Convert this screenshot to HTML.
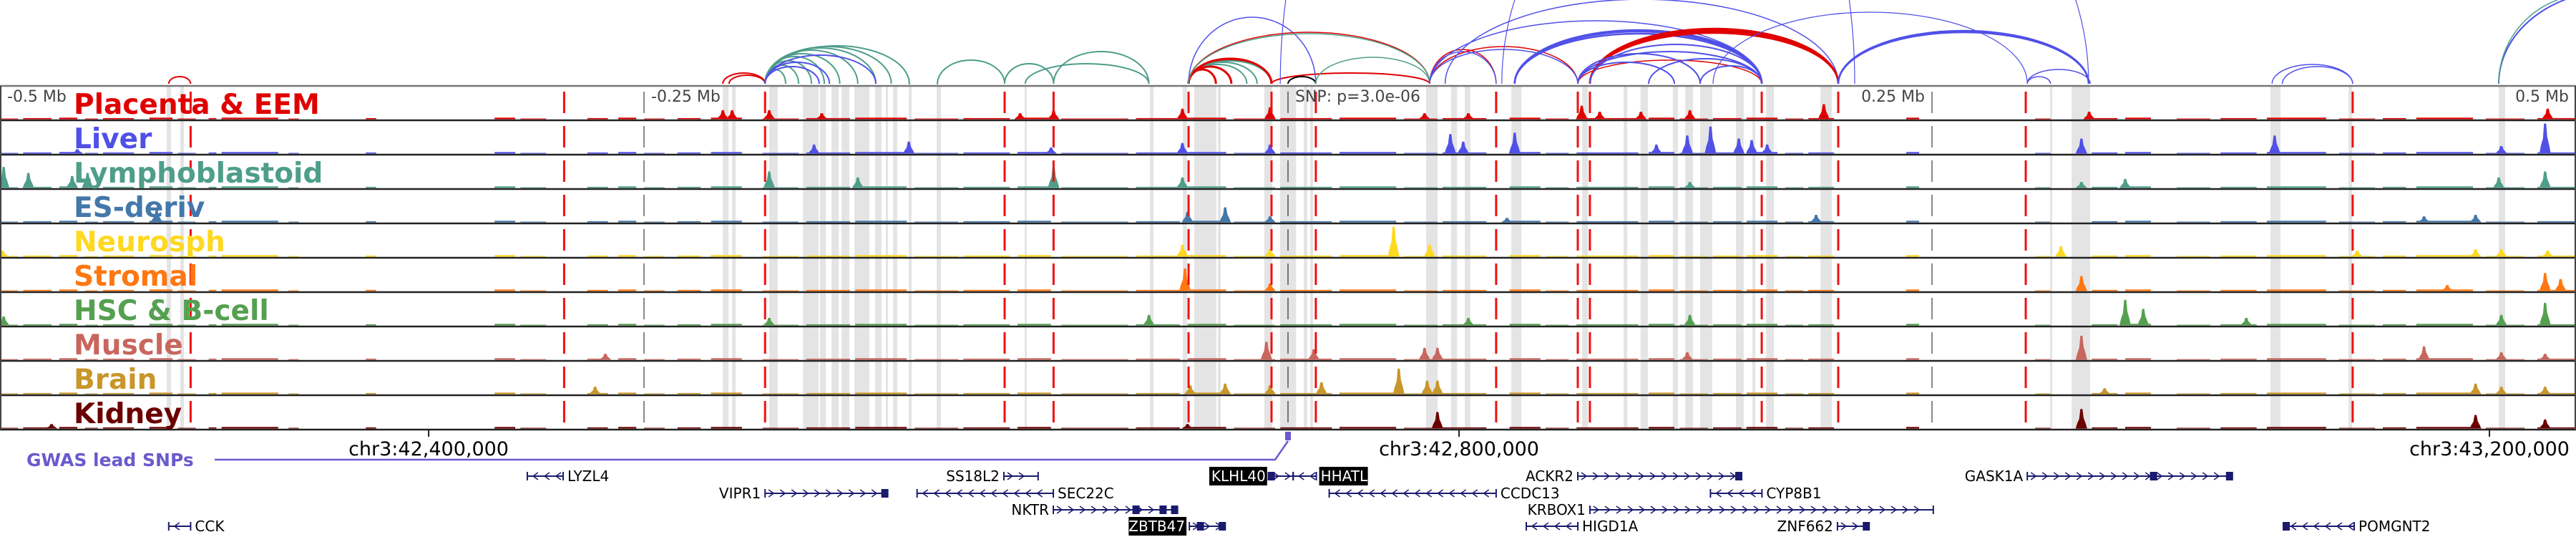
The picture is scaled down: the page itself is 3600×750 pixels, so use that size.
<!DOCTYPE html>
<html><head><meta charset="utf-8">
<style>
html,body{margin:0;padding:0;background:#fff;}
#wrap{width:3600px;height:750px;position:relative;overflow:hidden;}
svg{display:block;}
text{font-family:"DejaVu Sans","Liberation Sans",sans-serif;}
</style></head>
<body>
<div id="wrap">
<svg id="chart" width="3600" height="750" xmlns="http://www.w3.org/2000/svg"></svg>
</div>
<script>
// ---------- data (positions in kb from window start, chr3:42,233,611) ----------
const trackNames = ["Placenta & EEM","Liver","Lymphoblastoid","ES-deriv","Neurosph","Stromal","HSC & B-cell","Muscle","Brain","Kidney"];
const trackColors = ["#e00000","#5050e8","#4e9e8a","#4477aa","#ffd820","#ff7711","#55a050","#c8665e","#c8962a","#6b0000"];
const redLinesKb = [74,219,297,390,409,461.4,493.6,510.8,580.8,612.5,617.2,683.9,713.6,786.4,913.3];
const greyLinesKb = [250,750];
const snpKb = 500;
const tickKb = [0,250,500,750,1000];
const tickLabels = ["-0.5 Mb","-0.25 Mb","SNP: p=3.0e-06","0.25 Mb","0.5 Mb"];
const axisKb = [166.4,566.4,966.4];
const axisLabels = ["chr3:42,400,000","chr3:42,800,000","chr3:43,200,000"];
const bandStarts = [64.7,70,280.6,284.2,298.6,311.7,318.3,322.8,326.7,331.7,339.7,343.9,346.7,352.8,363.6,397.8,446.4,459.2,463.6,472.8,490.8,496.9,506.1,508.6,553.6,563.3,568.6,586.7,614.2,630.3,636.9,649.4,654.2,660,673.9,680.3,685.6,706.7,795.8,804.2,881.4,911.7,970];
const bandEnds   = [66.4,71.4,282.8,285.6,301.9,317.8,320.6,325.6,329.7,337.5,342.2,344.7,348.3,353.9,365.3,398.6,447.8,460.8,472.2,473.9,493.9,503.1,507.5,509.7,558.1,565.6,570.8,590.6,616.4,631.7,639.7,651.4,657.2,664.7,676.9,681.4,688.6,711.1,796.7,811.4,885.3,913.1,972.5];
const baseStarts = [0,9,23,33,40,58,69,81,86,112,142,192,202,228,240,250,263,276,296,313,332,355,374,395,412,441,461,479,497,520,545,560,586,600,612,640,652,665,678,693,702,740,790,812,825,845,862,880,908,925,938,965,985];
const baseEnds   = [7,20,30,38,52,67,76,84,108,116,146,200,212,236,247,258,272,288,310,330,352,372,392,408,438,458,476,495,517,542,558,577,598,609,636,650,663,676,690,700,712,745,796,822,835,858,876,903,922,934,960,980,1000];
// peaks per track: positions (kb) and heights (score, 10 = full)
const peakKb = [
 [280.6,284.2,298.6,319,396,409,459,493,553,570,614,621,637,656,708,811,989],
 [30,316,352.8,408,459,493,563,568,588,643,655,664,675,680,686,808,883,988,971],
 [1.4,11,28,34,298.6,333,409,459,656,970,988,825,808],
 [60.8,461,475.6,493,585,705,941,961],
 [1,459,493,541,555,800,915,961,971,989],
 [460,493,808,950,988,994],
 [1.4,446,570,656,825,832,872,971,988,298.6],
 [491.6,510,553,558,655,808,941,971,988,235],
 [231,543,554,558,475.6,462,513,493,817,961,971,988],
 [558,461,808,961,988,20]
];
const peakVal = [
 [3,3,3,2,2,3,3.5,4,2,2,4.5,2.5,2.5,3,5,2.5,3.5],
 [1.5,3,4,2,3.5,3,6.5,4,7,3,6,9,5,4.5,3,5,6,10,2.5],
 [7,5,4,5,5.5,3.5,7,3.5,2,3.5,5.5,3,2],
 [4,3.5,5,2,1.5,2.5,2,2.5],
 [2,4,2.5,10,4,3.5,2,2.5,2.5,2],
 [7.5,2.5,5,2,6,4],
 [3,3.5,2.5,3.5,8.5,5.5,2.5,3.5,7.5,2.5],
 [6,3.5,4,4,2.5,8,4.5,2.5,2,2],
 [2.5,8.5,4.5,4.5,3.5,3,4,3,2,3.5,2.5,2.5],
 [5.5,1.5,6.5,4.5,3,1.5]
];
// chromatin arcs: start kb, end kb, height px, colour index, stroke width
const arcStart = [65.5,280.6,283,297,297,297,297,297,297,297,297,297,297,297,297,363.9,363.9,390,409,398,409,461.4,461.4,461.4,461.4,461.4,461.4,461.4,461.4,461.4,493.6,500,461.4,461.4,461.4,510.8,555,555,555,555,555,555,561,588,588,588,612.5,617.2,617.2,617.2,617.2,612.5,612.5,617.2,612.5,640,660,713.6,713.6,665,787,787,882,886,970,970,497,583];
const arcEnd   = [74,297,297,305,310,315,320,326,333,340,346,353,318,322,340,353,390,409,446,446,409,461.4,493.6,493.6,493.6,488,484,478,472,493.6,555,510.8,510.8,555,555,555,555,580.8,580.8,612.5,612.5,683.9,713.6,683.9,683.9,683.9,683.9,713.6,713.6,713.6,713.6,650,660,684,684,684,684,810.8,810.8,787,796,811.4,913.3,913.3,1060,1040,720,810.8];
const arcH     = [10,15,12,20,26,32,38,42,47,50,52,53,24,30,40,43,33,28,45,28,8,43,33,35,32,30,27,24,20,35,15,10,93,72,70,37,120,48,45,52,48,88,118,75,73,70,33,75,73,71,77,30,42,55,45,35,25,74,72,100,10,20,27,24,130,125,600,400];
const arcCol   = [0,0,0,2,2,2,2,2,2,2,2,2,1,1,1,2,2,2,2,2,0,0,0,10,2,2,2,0,0,0,0,10,1,0,2,2,1,0,1,0,1,1,1,1,1,1,0,0,0,0,0,1,1,1,1,1,1,1,1,1,1,1,1,1,1,2,1,1];
const arcW     = [2,2,2,2,2,2,2,2,2,2,2,2,2,2,2,2,2,2,2,2,2,2.5,3,2.5,2,2,2,3,3,3,2,2,1.5,1.5,1.5,1.5,1.5,1.5,1.5,1.5,1.5,1.5,1.5,2.5,2.5,2.5,1.5,2.5,2.5,2.5,2.5,2,2,2,2,2,2,2.5,2.5,1.2,1.5,1.5,1.5,1.5,2,1.5,1.2,1.2];
// genes
const geneNames = ["LYZL4","SS18L2","KLHL40","HHATL","ACKR2","GASK1A","VIPR1","SEC22C","CCDC13","CYP8B1","NKTR","KRBOX1","CCK","ZBTB47","HIGD1A","ZNF662","POMGNT2"];
const geneStart = [204.7,389.7,493,502,612.5,787,297,356,516,664,408.9,617.2,65.5,461.7,592.5,713.3,887.2];
const geneEnd   = [218.6,403,502,511,675.6,866,344,408.9,580.8,684,456.7,750.5,74,475.6,612.5,725.5,913.9];
const geneStrand= [-1,1,1,-1,1,1,1,-1,-1,-1,1,1,-1,1,-1,1,-1];
const geneRow   = [0,0,0,0,0,0,1,1,1,1,2,2,3,3,3,3,3];
const geneLabelLeft=[0,1,1,0,1,1,1,0,0,0,1,1,0,1,0,1,0];
const geneBoxed = [0,0,1,1,0,0,0,0,0,0,0,0,0,1,0,0,0];
const geneExons = [[],[],[493.5],[],[675],[836,865.5],[343.5],[],[],[],[441,451.5,456],[],[],[466,474.5],[],[724.5],[887.5]];

// ---------- scales ----------
const PX_PER_KB = 3.6;
function xs(kb){ return kb*PX_PER_KB; }
const TOP = 120, TRACK_H = 48, NT = trackNames.length, BOTTOM = TOP+TRACK_H*NT;
const arcPalette = ["#e00000","#5050e8","#4e9e8a"];
function arcColor(i){ return i===10 ? "#000000" : arcPalette[i]; }
const rowY = [665,689,712,735];

const NS = "http://www.w3.org/2000/svg";
const svg = document.getElementById('chart');
function mk(tag, attrs, parent){
  const e = document.createElementNS(NS, tag);
  for (const k in attrs) e.setAttribute(k, attrs[k]);
  (parent||svg).appendChild(e);
  return e;
}

// arcs
const gArcs = mk('g', {});


const cp = mk('clipPath',{id:'arcclip'});
mk('rect',{x:0,y:0,width:3600,height:TOP-2},cp);
gArcs.setAttribute('clip-path','url(#arcclip)');
for (let i=0;i<arcStart.length;i++){
  const x1 = xs(arcStart[i]), x2 = xs(arcEnd[i]), h = arcH[i];
  const rx = (x2-x1)/2, base = TOP-3;
  const p = mk('path',{d:`M${x1},${base} A${rx},${h} 0 0 1 ${x2},${base}`, fill:'none', stroke:arcColor(arcCol[i]), 'stroke-width':arcW[i]}, gArcs);
  
  
}

// grey bands
const gBands = mk('g',{});


for (let i=0;i<bandStarts.length;i++){
  const r = mk('rect',{x:xs(bandStarts[i]), y:TOP, width:Math.max(2,xs(bandEnds[i])-xs(bandStarts[i])), height:BOTTOM-TOP, fill:'#e4e4e4'}, gBands);
  
  
}

// tracks
for (let t=0;t<NT;t++){
  const g = mk('g',{});
  
  
  const yb = TOP + TRACK_H*(t+1) - 1.5;
  const col = trackColors[t];
  for (let i=0;i<baseStarts.length;i++){
    const hh = 1 + ((i*7+t*3)%3)*0.6;
    const r = mk('rect',{x:xs(baseStarts[i]), y:yb-hh, width:xs(baseEnds[i])-xs(baseStarts[i]), height:hh, fill:col}, g);
    
    
  }
  for (let i=0;i<peakKb[t].length;i++){
    const cx = xs(peakKb[t][i]), h = peakVal[t][i]*4.2;
    const pts = `${cx-8},${yb} ${cx-6},${yb-h*0.25} ${cx-3},${yb-h*0.5} ${cx-1.5},${yb-h} ${cx+1.5},${yb-h} ${cx+3},${yb-h*0.55} ${cx+6},${yb-h*0.25} ${cx+8},${yb}`;
    const p = mk('polygon',{points:pts, fill:col}, g);
    
    
  }
}

// vertical lines
for (const kb of greyLinesKb.concat([0,1000])){
  const l = mk('line',{x1:xs(kb),x2:xs(kb),y1:TOP,y2:BOTTOM,stroke:'#888','stroke-width':2,'stroke-dasharray':'30 18','stroke-dashoffset':-8});
  
  
}
{
  const l = mk('line',{x1:xs(snpKb),x2:xs(snpKb),y1:TOP,y2:BOTTOM,stroke:'#777','stroke-width':2,'stroke-dasharray':'30 18','stroke-dashoffset':-8});
  
  
}
for (const kb of redLinesKb){
  const l = mk('line',{x1:xs(kb),x2:xs(kb),y1:TOP,y2:BOTTOM,stroke:'#ee1111','stroke-width':3,'stroke-dasharray':'30 18','stroke-dashoffset':-8});
  
  
}

// track separators + frame
for (let t=0;t<=NT;t++){
  const y = TOP + TRACK_H*t;
  const l = mk('line',{x1:0,x2:3600,y1:y,y2:y,stroke:t===0?'#777':'#222','stroke-width':2.5});
  
  
}
{
  const l1 = mk('line',{x1:1,x2:1,y1:TOP,y2:BOTTOM,stroke:'#444','stroke-width':2});
  
  
  const l2 = mk('line',{x1:3599,x2:3599,y1:TOP,y2:BOTTOM,stroke:'#444','stroke-width':2});
  
  
}

// track labels
for (let t=0;t<NT;t++){
  const tx = mk('text',{x:103, y:TOP+TRACK_H*t+39, fill:trackColors[t], 'font-size':39, 'font-weight':'bold'});
  tx.textContent = trackNames[t];
  
  
}

// tick labels
for (let i=0;i<tickKb.length;i++){
  let x = xs(tickKb[i]), anchor='start';
  if (i===0) x = 10; else if (i===1||i===2) x += 10; else { x -= 10; anchor='end'; }
  const tx = mk('text',{x:x, y:142, fill:'#444', 'font-size':22, 'text-anchor':anchor});
  tx.textContent = tickLabels[i];
  
  
}

// genomic axis
for (let i=0;i<axisKb.length;i++){
  const x = xs(axisKb[i]);
  const tk = mk('line',{x1:x,x2:x,y1:BOTTOM,y2:BOTTOM+10,stroke:'#222','stroke-width':2});
  
  
  const tx = mk('text',{x:x, y:636, 'font-size':27, 'text-anchor':'middle', fill:'#000'});
  tx.textContent = axisLabels[i];
  
  
}

// GWAS
{
  const g = mk('g',{});
  
  
  const tx = mk('text',{x:37,y:651,'font-size':25,'font-weight':'bold',fill:'#6a5acd'},g);
  tx.textContent = 'GWAS lead SNPs';
  
  
  const sx = xs(snpKb);
  const p = mk('polyline',{points:`300,642 ${sx-18},642 ${sx},616`,fill:'none',stroke:'#6a5acd','stroke-width':2.5},g);
  
  
  const r = mk('rect',{x:sx-4,y:603,width:8,height:12,fill:'#6a5acd'},g);
  
  
}

// genes
for (let i=0;i<geneNames.length;i++){
  const g = mk('g',{});
  
  
  const x1 = xs(geneStart[i]), x2 = xs(geneEnd[i]), y = rowY[geneRow[i]];
  mk('line',{x1:x1,x2:x2,y1:y,y2:y,stroke:'#1a1a6e','stroke-width':2},g);
  mk('line',{x1:x1,x2:x1,y1:y-6,y2:y+6,stroke:'#1a1a6e','stroke-width':2},g);
  mk('line',{x1:x2,x2:x2,y1:y-6,y2:y+6,stroke:'#1a1a6e','stroke-width':2},g);
  const s = geneStrand[i];
  for (let ax = x1+10; ax < x2-6; ax += 16){
    mk('polyline',{points:`${ax-5*s},${y-5} ${ax+2*s},${y} ${ax-5*s},${y+5}`,fill:'none',stroke:'#1a1a6e','stroke-width':1.5},g);
  }
  for (const ex of geneExons[i]){
    mk('rect',{x:xs(ex)-5,y:y-6,width:10,height:12,fill:'#1a1a6e'},g);
  }
  const fs = 20;
  const left = geneLabelLeft[i]===1;
  const w = geneNames[i].length*12.8+4;
  const lx = left ? x1-4 : x2+4;
  if (geneBoxed[i]){
    mk('rect',{x:left?lx-w:lx, y:y-13, width:w, height:26, fill:'#000'},g);
  }
  const tx = mk('text',{x:left?lx-2:lx+2, y:y+7, 'font-size':fs, 'text-anchor':left?'end':'start', fill:geneBoxed[i]?'#fff':'#000'},g);
  tx.textContent = geneNames[i];
  
  
}
</script>
</body></html>
